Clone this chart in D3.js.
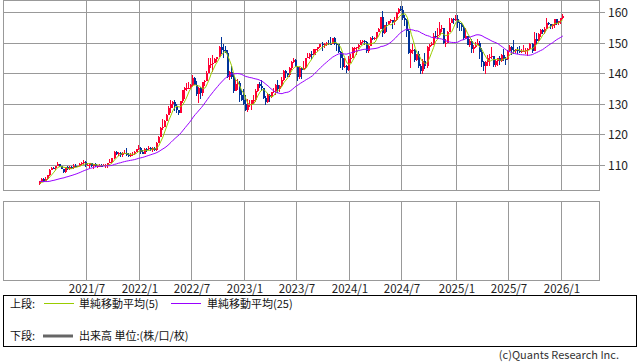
<!DOCTYPE html>
<html>
<head>
<meta charset="utf-8">
<script src="https://cdn.jsdelivr.net/npm/d3@7"></script>
<style>
  html, body { margin: 0; padding: 0; background: #fff; }
  svg { display: block; font-family: "Noto Sans CJK JP", "Noto Sans", sans-serif; }
</style>
</head>
<body>
<svg id="chart" width="638" height="362"></svg>
<script>
// weekly bars, first one is the week of this Monday
const firstWeek = "2021-01-25";
const firstOpen = 103.8;

// closes before the first bar, only used to seed the moving averages
const priorCloses = [106.6,105.8,105.4,106.2,106.1,104.6,105.6,105.3,105.6,105.4,104.7,104.7,
  103.4,104.6,103.9,104.1,104.2,104.0,103.4,103.6,103.2,103.9,103.9,103.8];

const closes = [
  // 2021
  104.7,105.4,104.9,105.4,106.6,108.4,109.0,108.9,109.6,110.3,109.6,108.8,107.8,109.3,108.6,109.4,108.9,
  109.8,109.5,109.7,110.2,110.8,111.1,110.1,110.1,110.6,109.7,110.2,109.6,109.8,109.8,109.7,109.9,110.0,
  110.7,111.1,112.2,114.2,113.5,114.0,113.4,114.0,114.0,113.4,112.8,113.4,113.7,114.4,115.1,
  // 2022
  115.6,114.2,113.7,115.3,115.2,115.4,115.0,115.6,114.8,117.3,119.2,122.1,122.5,124.3,126.4,128.5,129.8,
  130.6,129.3,127.9,127.1,130.9,134.4,135.0,135.2,135.2,136.1,138.5,136.1,133.3,135.0,133.4,137.0,137.6,
  140.2,142.6,142.9,143.4,144.7,145.3,148.7,147.6,147.5,146.6,138.8,140.4,138.8,134.3,136.6,136.7,132.9,131.1,
  // 2023
  129.9,127.9,129.6,129.9,131.2,131.4,134.1,136.5,135.8,135.0,131.8,130.7,132.8,132.2,133.8,134.2,136.3,
  134.8,135.7,137.9,140.6,140.0,139.4,141.8,143.7,144.3,142.1,138.8,141.8,141.2,141.8,144.9,145.4,146.4,
  146.2,147.8,147.9,148.4,149.4,149.3,149.6,149.9,149.7,149.4,151.5,149.6,149.5,146.8,144.9,142.1,142.4,141.0,
  // 2024
  144.6,145.0,148.1,148.1,148.4,149.3,150.2,150.5,150.1,147.1,149.0,151.4,151.3,151.6,153.3,154.6,158.3,
  153.0,155.8,155.7,157.0,157.3,156.8,157.4,159.8,160.9,160.8,157.9,157.5,153.8,146.5,147.6,147.6,144.4,
  146.2,142.3,140.8,143.9,142.2,148.7,149.1,149.5,152.3,152.0,152.6,154.3,154.7,149.8,150.0,153.6,156.4,157.8,157.3,
  // 2025
  157.7,156.3,156.0,155.2,151.4,152.3,149.3,150.6,148.0,148.6,149.3,149.8,146.9,143.5,142.2,143.6,144.9,
  145.4,145.7,142.6,143.9,144.9,144.1,146.1,144.6,144.5,147.4,148.6,147.6,147.4,147.7,147.2,146.9,147.1,
  147.4,147.7,147.9,149.5,147.4,151.2,150.6,152.9,154.0,153.4,154.6,156.4,156.2,155.3,155.8,157.6,156.5,156.9,
  // 2026
  157.9,158.6
];

const highs = [
  104.9,105.8,105.6,106.2,106.7,108.6,109.2,109.4,109.8,110.9,110.4,109.7,108.8,109.4,109.7,109.8,109.6,
  110.2,110.3,109.8,110.8,111.1,111.7,111.2,110.7,110.6,110.6,110.4,110.8,110.1,110.2,110.4,110.4,110.2,
  110.8,112.1,112.3,114.5,114.7,114.3,114.4,114.3,114.9,115.5,113.9,113.9,114.3,114.5,115.2,
  116.4,116.0,114.9,115.7,115.6,116.3,115.9,115.8,115.8,117.4,119.4,122.4,125.1,124.7,126.7,129.4,131.2,
  131.0,131.3,129.8,128.0,131.0,134.6,135.6,136.7,137.0,136.6,139.4,138.9,137.5,135.5,135.6,137.2,137.7,
  140.8,145.0,144.9,145.9,144.9,145.4,148.9,151.9,149.7,148.8,147.6,140.8,142.2,139.9,137.9,138.2,137.5,134.5,
  134.8,132.9,131.6,131.1,131.2,132.9,134.9,136.5,137.1,137.9,135.1,132.6,133.6,133.2,134.0,135.1,136.6,
  137.8,136.0,138.7,140.9,140.9,140.2,141.9,143.9,145.1,144.7,142.0,141.9,141.9,143.9,145.0,146.6,146.6,
  147.4,147.9,148.0,148.5,149.7,150.2,149.8,150.1,150.8,151.7,151.6,151.9,149.8,149.7,147.4,146.6,144.9,142.8,
  145.6,146.4,148.4,148.7,148.6,149.6,150.9,150.7,150.8,150.5,149.2,151.9,152.0,151.9,153.4,154.8,158.4,
  160.2,155.9,156.8,157.2,157.7,157.0,158.3,159.9,161.3,161.9,161.8,158.9,157.8,154.3,148.0,149.4,148.0,
  146.4,147.2,143.1,144.5,146.5,149.0,149.6,150.3,153.2,153.9,154.7,156.8,155.9,154.5,151.2,153.9,157.9,158.1,158.1,
  158.9,158.9,156.8,156.3,155.9,154.8,152.1,151.2,151.3,149.2,150.2,151.2,150.5,148.3,144.0,144.0,145.9,
  146.2,148.6,145.7,144.8,145.1,145.5,146.2,148.0,145.2,147.6,149.2,148.8,150.9,148.0,148.5,148.8,147.9,
  149.1,148.2,148.3,149.9,149.9,153.3,153.2,153.2,154.4,154.5,155.0,157.9,156.7,156.2,156.2,157.8,157.7,157.2,
  157.9,159.4
];

const lows = [
  103.6,104.6,104.4,104.9,105.2,106.5,108.3,108.6,108.4,109.6,109.3,108.6,107.5,107.5,108.3,108.3,108.6,
  108.6,109.2,109.2,109.6,110.0,110.4,109.5,109.7,109.1,109.4,108.7,109.4,109.1,109.6,109.6,109.6,109.1,
  109.1,110.6,110.8,112.0,113.4,113.0,112.7,112.7,113.6,113.1,112.5,112.6,113.1,113.3,114.3,
  115.0,113.5,113.5,113.5,114.2,114.9,114.7,114.4,114.6,114.7,117.2,119.1,121.3,122.4,124.3,126.6,126.9,
  128.6,127.5,127.0,126.4,127.7,130.4,131.5,134.3,134.8,134.8,135.9,136.0,132.5,130.4,131.7,132.6,135.8,
  137.6,140.1,141.7,140.3,143.3,143.5,145.2,146.2,145.1,146.5,138.5,137.7,138.1,133.6,134.1,134.5,130.6,130.8,
  129.5,127.5,127.2,129.0,128.1,129.8,130.6,133.9,135.3,134.1,131.5,129.6,130.4,130.6,131.8,133.6,133.0,
  133.5,133.7,135.6,137.6,138.4,138.8,138.8,141.0,143.3,142.0,137.3,138.0,138.1,141.4,141.5,144.9,144.7,
  144.4,145.9,145.9,147.3,148.3,147.4,148.2,148.9,149.3,149.2,149.6,149.2,147.2,146.7,141.6,140.9,141.8,140.2,
  140.8,143.4,144.9,146.6,145.9,147.9,149.2,149.8,149.2,146.5,146.6,148.9,150.9,151.0,151.1,153.4,154.5,
  151.9,152.8,153.6,155.6,156.4,154.6,155.7,157.2,159.3,160.2,157.4,155.4,151.9,146.4,141.7,146.3,143.5,
  143.9,141.8,139.6,139.6,141.5,141.6,147.4,148.9,149.1,151.5,151.3,152.7,153.3,149.5,148.6,149.9,153.3,156.4,156.0,
  156.9,154.8,153.7,153.8,150.9,151.3,149.3,148.6,146.5,146.5,148.2,149.4,144.6,142.1,140.8,139.9,142.4,
  142.4,144.8,142.1,142.1,142.4,142.8,143.8,143.9,142.7,144.2,146.9,145.9,146.2,146.6,146.2,146.6,146.5,
  146.8,146.3,145.5,147.7,146.6,149.4,149.4,150.4,151.7,152.8,152.9,154.7,155.7,154.6,154.4,154.9,155.6,155.9,
  156.1,157.6
];

const xTickLabels = ["2021/7","2022/1","2022/7","2023/1","2023/7","2024/1","2024/7","2025/1","2025/7","2026/1"];
const yTicks = [110, 120, 130, 140, 150, 160];
const maPeriods = [5, 25];
const maColors = ["#99cc00", "#9900ff"];
const legendTop = ["単純移動平均(5)", "単純移動平均(25)"];
const legendBottom = "出来高 単位:(株/口/枚)";

const upColor = "#ff0033", downColor = "#003399", gridColor = "#999";

const svg = d3.select("#chart");
const upper = { x0: 3.5, x1: 599.5, y0: 0.5, y1: 190.5 };
const lower = { x0: 3.5, x1: 599.5, y0: 201.5, y1: 280.5 };

const t0 = d3.timeParse("%Y-%m-%d")(firstWeek);
const bars = closes.map((c, i) => {
  const open = i === 0 ? firstOpen : closes[i - 1];
  return {
    i, date: d3.timeDay.offset(t0, 7 * i), open, close: c,
    high: Math.max(highs[i], open, c), low: Math.min(lows[i], open, c)
  };
});

const x = d3.scalePoint().domain(d3.range(bars.length)).range([39.8, 562.8]);
const y = d3.scaleLinear().domain([101.83, 163.92]).range([190, 0]);
const px = i => Math.round(x(i));

// tick positions: first weekly bar in the labelled month
const xTicks = xTickLabels.map(lbl => {
  const [yy, mm] = lbl.split("/").map(Number);
  const start = new Date(yy, mm - 1, 1);
  return { label: lbl, i: bars.findIndex(b => b.date >= start) };
});

// panels
[upper, lower].forEach(p => {
  svg.append("rect").attr("x", p.x0).attr("y", p.y0)
    .attr("width", p.x1 - p.x0).attr("height", p.y1 - p.y0).attr("fill", "#fff");
});

const grid = svg.append("g").attr("stroke", gridColor).attr("stroke-width", 1).attr("shape-rendering", "crispEdges");
grid.selectAll(".hy").data(yTicks).enter().append("line")
  .attr("x1", upper.x0).attr("x2", upper.x1 + 5)
  .attr("y1", d => Math.round(y(d)) + 0.5).attr("y2", d => Math.round(y(d)) + 0.5);
[upper, lower].forEach(p => {
  grid.selectAll(null).data(xTicks).enter().append("line")
    .attr("x1", d => px(d.i) + 0.5).attr("x2", d => px(d.i) + 0.5)
    .attr("y1", p.y0).attr("y2", p.y1);
});

svg.append("defs").append("clipPath").attr("id", "clipTop")
  .append("rect").attr("x", upper.x0).attr("y", upper.y0)
  .attr("width", upper.x1 - upper.x0).attr("height", upper.y1 - upper.y0);

const plot = svg.append("g").attr("clip-path", "url(#clipTop)").attr("shape-rendering", "crispEdges");

plot.selectAll(".wick").data(bars).enter().append("rect")
  .attr("x", d => px(d.i) - 1)
  .attr("width", 1)
  .attr("y", d => y(d.high))
  .attr("height", d => Math.max(1, y(d.low) - y(d.high)))
  .attr("fill", d => d.close >= d.open ? upColor : downColor);

plot.selectAll(".body").data(bars).enter().append("rect")
  .attr("x", d => px(d.i) - 1)
  .attr("width", 2)
  .attr("y", d => y(Math.max(d.open, d.close)))
  .attr("height", d => Math.max(1, Math.abs(y(d.open) - y(d.close))))
  .attr("fill", d => d.close >= d.open ? upColor : downColor);

// simple moving averages over closes (seeded with prior weeks)
const allCloses = priorCloses.concat(closes);
const offset = priorCloses.length;
const lineGen = d3.line().x(d => x(d.i)).y(d => y(d.v));
maPeriods.forEach((p, k) => {
  const ma = bars.map(b => {
    const end = b.i + offset + 1;
    return { i: b.i, v: d3.mean(allCloses.slice(Math.max(0, end - p), end)) };
  });
  svg.append("path").datum(ma)
    .attr("clip-path", "url(#clipTop)")
    .attr("fill", "none").attr("stroke", maColors[k]).attr("stroke-width", 1)
    .attr("d", lineGen);
});

// frames
[upper, lower].forEach(p => {
  svg.append("rect").attr("x", p.x0).attr("y", p.y0)
    .attr("width", p.x1 - p.x0).attr("height", p.y1 - p.y0)
    .attr("fill", "none").attr("stroke", gridColor).attr("shape-rendering", "crispEdges");
});

// y labels
svg.append("g").selectAll("text").data(yTicks).enter().append("text")
  .attr("x", 608).attr("y", d => Math.round(y(d)) + 4.5)
  .attr("font-size", 12).attr("fill", "#222")
  .text(d => d);

// x labels
svg.append("g").selectAll("text").data(xTicks).enter().append("text")
  .attr("x", d => px(d.i) + 1).attr("y", 292.5)
  .attr("text-anchor", "middle").attr("font-size", 11.5).attr("fill", "#222")
  .text(d => d.label);

// legend
svg.append("rect").attr("x", 3.5).attr("y", 295.5).attr("width", 633).attr("height", 51)
  .attr("fill", "#fff").attr("stroke", "#000").attr("shape-rendering", "crispEdges");

const lg = svg.append("g").attr("font-size", 11).attr("fill", "#111");
lg.append("text").attr("x", 10).attr("y", 307.5).text("上段:");
const legX = [[44, 79], [171, 207]];
legendTop.forEach((t, k) => {
  lg.append("line").attr("x1", legX[k][0]).attr("x2", legX[k][0] + 30)
    .attr("y1", 303.5).attr("y2", 303.5).attr("stroke", maColors[k]).attr("stroke-width", 1);
  lg.append("text").attr("x", legX[k][1]).attr("y", 307.5).text(t);
});
lg.append("text").attr("x", 10).attr("y", 340).text("下段:");
lg.append("line").attr("x1", 43).attr("x2", 73).attr("y1", 336).attr("y2", 336)
  .attr("stroke", "#666").attr("stroke-width", 3);
lg.append("text").attr("x", 79).attr("y", 340).text(legendBottom);

svg.append("text").attr("x", 619).attr("y", 358.5).attr("text-anchor", "end")
  .attr("font-size", 11).attr("fill", "#333").text("(c)Quants Research Inc.");
</script>
</body>
</html>
